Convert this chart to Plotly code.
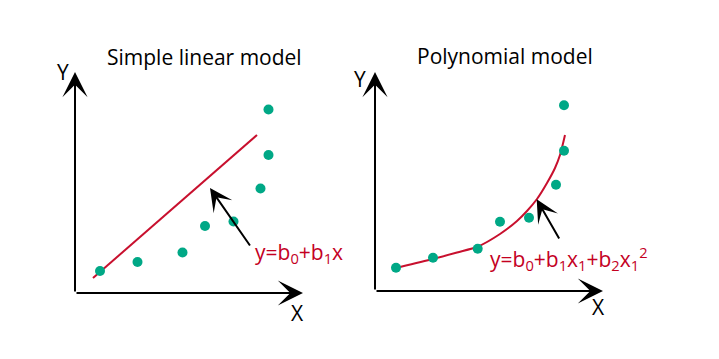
import plotly.graph_objects as go

# ---- data (panel-local units: origin at the axes corner) ----
lin_x = [25, 62.5, 107.5, 130, 158.5, 185.5, 193.5, 193.5]
lin_y = [22, 31, 40.5, 67, 71.5, 104.5, 138, 183.5]
lin_fit_x = [18, 182]
lin_fit_y = [15, 158]

poly_x = [21, 58, 102.7, 125, 154, 181, 189, 189]
poly_y = [23.3, 33.3, 42.3, 69.3, 73.3, 106.3, 140.3, 185.7]
poly_fit_x = [25, 58, 82, 103, 125, 142, 152, 162, 172, 180, 185, 190]
poly_fit_y = [24, 32, 38.5, 44.5, 57, 70, 80, 92, 108, 123, 136, 156]

titles = ["Simple linear model", "Polynomial model"]
equations = ["y=b<sub>0</sub>+b<sub>1</sub>x",
             "y=b<sub>0</sub>+b<sub>1</sub>x<sub>1</sub>+b<sub>2</sub>x<sub>1</sub><sup>2</sup>"]

TEAL = "#00a886"
RED = "#c4001f"
FONT = "Open Sans"

fig = go.Figure()
fig.add_trace(go.Scatter(x=lin_fit_x, y=lin_fit_y, mode="lines",
                         line=dict(color="#c8102e", width=2), xaxis="x", yaxis="y"))
fig.add_trace(go.Scatter(x=lin_x, y=lin_y, mode="markers",
                         marker=dict(color=TEAL, size=10), xaxis="x", yaxis="y"))
fig.add_trace(go.Scatter(x=poly_fit_x, y=poly_fit_y, mode="lines",
                         line=dict(color="#c8102e", width=2, shape="spline", smoothing=0.8),
                         xaxis="x2", yaxis="y2"))
fig.add_trace(go.Scatter(x=poly_x, y=poly_y, mode="markers",
                         marker=dict(color=TEAL, size=10), xaxis="x2", yaxis="y2"))

ann = []
panels = [
    dict(xr="x", yr="y", ytip=221, xtip=228, ylab=(-12, 221), xlab=(222, -20),
         title=(129, 236), eq_tail=(176, 46), eq_tip=(135, 105), eq_pos=(178, 40)),
    dict(xr="x2", yr="y2", ytip=219, xtip=228, ylab=(-15, 212), xlab=(223, -16),
         title=(130, 235), eq_tail=(185, 51), eq_tip=(161.7, 91.7), eq_pos=(113, 33)),
]
for i, p in enumerate(panels):
    xr, yr = p["xr"], p["yr"]
    # axes arrows
    ann.append(dict(x=0, y=p["ytip"], ax=0, ay=0, xref=xr, yref=yr, axref=xr, ayref=yr,
                    text="", showarrow=True, arrowhead=3, arrowsize=2.1, arrowwidth=2,
                    arrowcolor="black"))
    ann.append(dict(x=p["xtip"], y=0, ax=0, ay=0, xref=xr, yref=yr, axref=xr, ayref=yr,
                    text="", showarrow=True, arrowhead=3, arrowsize=2.1, arrowwidth=2,
                    arrowcolor="black"))
    ann.append(dict(x=p["ylab"][0], y=p["ylab"][1], xref=xr, yref=yr, text="Y",
                    showarrow=False, font=dict(family=FONT, size=21, color="black")))
    ann.append(dict(x=p["xlab"][0], y=p["xlab"][1], xref=xr, yref=yr, text="X",
                    showarrow=False, font=dict(family=FONT, size=21, color="black")))
    ann.append(dict(x=p["title"][0], y=p["title"][1], xref=xr, yref=yr, text=titles[i],
                    showarrow=False, font=dict(family=FONT, size=21, color="black")))
    # equation arrow
    ann.append(dict(x=p["eq_tip"][0], y=p["eq_tip"][1], ax=p["eq_tail"][0], ay=p["eq_tail"][1],
                    xref=xr, yref=yr, axref=xr, ayref=yr, text="", showarrow=True,
                    arrowhead=3, arrowsize=1.9, arrowwidth=2, arrowcolor="black"))
    ann.append(dict(x=p["eq_pos"][0], y=p["eq_pos"][1], xref=xr, yref=yr, text=equations[i],
                    xanchor="left", yanchor="middle", showarrow=False,
                    font=dict(family=FONT, size=21, color=RED)))

ax_common = dict(showgrid=False, zeroline=False, showticklabels=False, ticks="",
                 showline=False, fixedrange=True)
fig.update_layout(
    width=719, height=359, margin=dict(l=0, r=0, t=0, b=0),
    paper_bgcolor="white", plot_bgcolor="white", showlegend=False,
    xaxis=dict(domain=[0, 0.5], range=[-75, 284.5], **ax_common),
    yaxis=dict(domain=[0, 1], range=[-66, 293], **ax_common),
    xaxis2=dict(domain=[0.5, 1], range=[-15.5, 344], anchor="y2", **ax_common),
    yaxis2=dict(domain=[0, 1], range=[-68, 291], anchor="x2", **ax_common),
    annotations=ann,
)

fig.write_html("out.html")
